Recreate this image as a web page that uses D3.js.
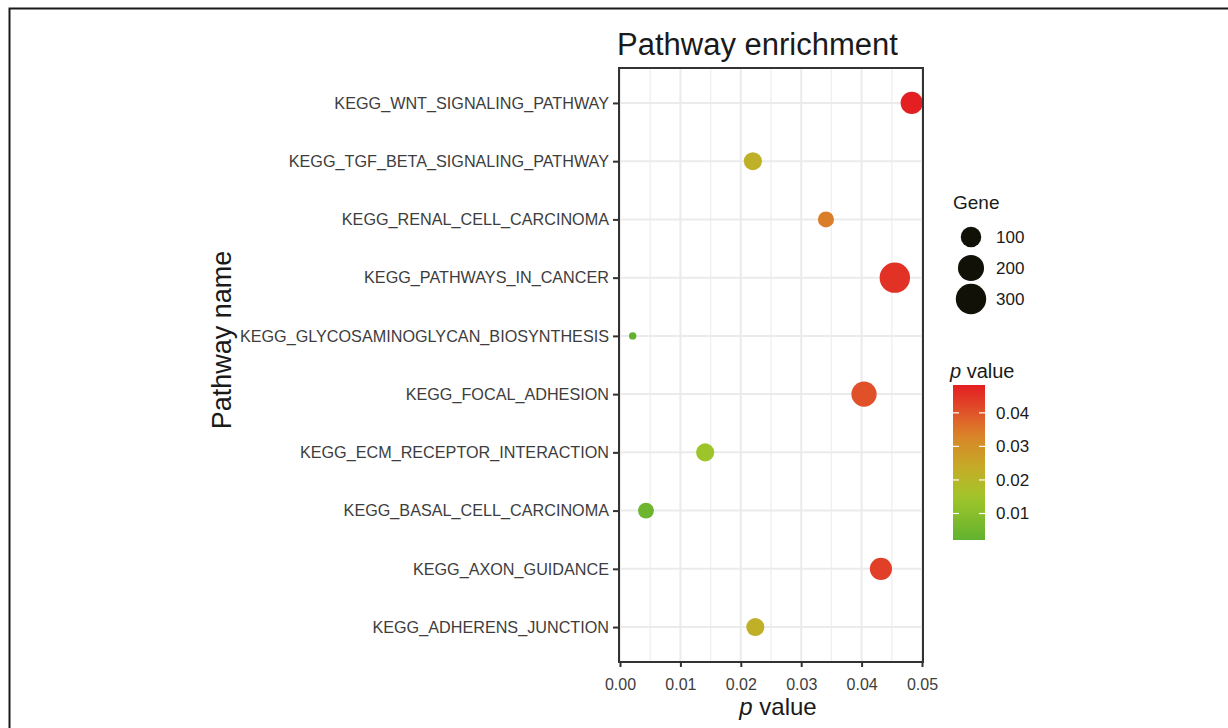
<!DOCTYPE html>
<html>
<head>
<meta charset="utf-8">
<script src="https://cdn.jsdelivr.net/npm/d3@7"></script>
<style>
  html, body { margin: 0; padding: 0; background: #fff; }
  svg { display: block; font-family: "Liberation Sans", Arial, sans-serif; }
</style>
</head>
<body>
<svg id="chart" width="1228" height="728"></svg>
<script>
// ---- data ----
const pathways = [
  "KEGG_WNT_SIGNALING_PATHWAY",
  "KEGG_TGF_BETA_SIGNALING_PATHWAY",
  "KEGG_RENAL_CELL_CARCINOMA",
  "KEGG_PATHWAYS_IN_CANCER",
  "KEGG_GLYCOSAMINOGLYCAN_BIOSYNTHESIS",
  "KEGG_FOCAL_ADHESION",
  "KEGG_ECM_RECEPTOR_INTERACTION",
  "KEGG_BASAL_CELL_CARCINOMA",
  "KEGG_AXON_GUIDANCE",
  "KEGG_ADHERENS_JUNCTION"
];
const pValues = [0.0483, 0.0220, 0.0341, 0.0455, 0.0021, 0.0404, 0.0141, 0.0043, 0.0432, 0.0224];
const geneCounts = [126, 68, 46, 300, 4, 182, 68, 44, 126, 68];
const xTicks = [0.00, 0.01, 0.02, 0.03, 0.04, 0.05];
const sizeLegendValues = [100, 200, 300];
const colorLegendTicks = [0.01, 0.02, 0.03, 0.04];

// ---- layout ----
const svg = d3.select("#chart");
const panel = { left: 619, right: 923, top: 68, bottom: 662 };
const FONT = "Liberation Sans, Arial, sans-serif";

// outer frame
svg.append("path")
  .attr("d", "M9.5,740 L9.5,8.5 L1240,8.5")
  .attr("fill", "none").attr("stroke", "#1a1a1a").attr("stroke-width", 2);

const x = d3.scaleLinear().domain([0, 0.05]).range([panel.left + 1, panel.right - 1]);
const y = d3.scalePoint().domain(pathways).range([panel.top, panel.bottom]).padding(0.6);

const gMin = d3.min(geneCounts), gMax = d3.max(geneCounts);
const rMin = 3.7, rMax = 15.2;
const rSqrt = d3.scaleSqrt().domain([0, gMax - gMin]).range([0, rMax - rMin]);
const r = g => rMin + rSqrt(Math.max(0, g - gMin));

const pMin = d3.min(pValues), pMax = d3.max(pValues);
const colorStops = ["#62b22f", "#a2c52a", "#c4ad27", "#da8229", "#e0512a", "#e31f22"];
const stopPos = [0, 0.28, 0.46, 0.68, 0.83, 1];
const color = d3.scaleLinear()
  .domain(stopPos.map(t => pMin + t * (pMax - pMin)))
  .range(colorStops)
  .interpolate(d3.interpolateRgb)
  .clamp(true);

// grid
const grid = svg.append("g");
const minorTicks = d3.range(0.005, 0.05, 0.01);
grid.selectAll("line.minor").data(minorTicks).join("line")
  .attr("x1", d => x(d)).attr("x2", d => x(d))
  .attr("y1", panel.top).attr("y2", panel.bottom)
  .attr("stroke", "#efefef").attr("stroke-width", 1.3);
grid.selectAll("line.majx").data(xTicks).join("line")
  .attr("x1", d => x(d)).attr("x2", d => x(d))
  .attr("y1", panel.top).attr("y2", panel.bottom)
  .attr("stroke", "#ebebeb").attr("stroke-width", 2);
grid.selectAll("line.majy").data(pathways).join("line")
  .attr("x1", panel.left).attr("x2", panel.right)
  .attr("y1", d => y(d)).attr("y2", d => y(d))
  .attr("stroke", "#ebebeb").attr("stroke-width", 2);

// points
svg.append("g").selectAll("circle").data(pathways).join("circle")
  .attr("cx", (d, i) => x(pValues[i]))
  .attr("cy", d => y(d))
  .attr("r", (d, i) => r(geneCounts[i]))
  .attr("fill", (d, i) => color(pValues[i]));

// panel border
svg.append("rect")
  .attr("x", panel.left).attr("y", panel.top)
  .attr("width", panel.right - panel.left).attr("height", panel.bottom - panel.top)
  .attr("fill", "none").attr("stroke", "#333").attr("stroke-width", 2);

// axes
const xAxis = d3.axisBottom(x).tickValues(xTicks).tickFormat(d3.format(".2f")).tickSize(5).tickPadding(12);
const gx = svg.append("g").attr("transform", `translate(0,${panel.bottom})`).call(xAxis);
gx.select(".domain").remove();
gx.selectAll(".tick line").attr("stroke", "#333").attr("stroke-width", 2);
gx.selectAll(".tick text").attr("fill", "#3d3d3d").attr("font-size", 16).attr("font-family", FONT);

const yAxis = d3.axisLeft(y).tickSize(6).tickPadding(4);
const gy = svg.append("g").attr("transform", `translate(${panel.left},0)`).call(yAxis);
gy.select(".domain").remove();
gy.selectAll(".tick line").attr("stroke", "#333").attr("stroke-width", 2);
gy.selectAll(".tick text").attr("fill", "#3d3d3d").attr("font-size", 16.2).attr("font-family", FONT);

// titles
svg.append("text").attr("x", 617).attr("y", 55)
  .attr("font-size", 31).attr("fill", "#1a1a1a").text("Pathway enrichment");

svg.append("text")
  .attr("transform", `translate(231,340) rotate(-90)`)
  .attr("text-anchor", "middle").attr("font-size", 27).attr("fill", "#1a1a1a")
  .text("Pathway name");

const xl = svg.append("text").attr("x", 778).attr("y", 715)
  .attr("text-anchor", "middle").attr("font-size", 24).attr("fill", "#1a1a1a");
xl.append("tspan").attr("font-style", "italic").text("p");
xl.append("tspan").text(" value");

// size legend
const lg = svg.append("g");
lg.append("text").attr("x", 953).attr("y", 209).attr("font-size", 19).attr("fill", "#1a1a1a").text("Gene");
const legY = d3.scalePoint().domain(sizeLegendValues).range([237, 299]);
lg.selectAll("circle").data(sizeLegendValues).join("circle")
  .attr("cx", 971).attr("cy", d => legY(d)).attr("r", d => r(d))
  .attr("fill", "#111108");
lg.selectAll("text.lab").data(sizeLegendValues).join("text")
  .attr("class", "lab")
  .attr("x", 996).attr("y", d => legY(d) + 6)
  .attr("font-size", 17).attr("fill", "#1a1a1a").text(d => d);

// colour legend
const cg = svg.append("g");
const ct = cg.append("text").attr("x", 950).attr("y", 378).attr("font-size", 20).attr("fill", "#1a1a1a");
ct.append("tspan").attr("font-style", "italic").text("p");
ct.append("tspan").text(" value");

const bar = { x: 953, w: 32, top: 385, bottom: 540 };
const cy = d3.scaleLinear().domain([pMin, pMax]).range([bar.bottom, bar.top]);
const defs = svg.append("defs");
const grad = defs.append("linearGradient").attr("id", "pgrad")
  .attr("x1", 0).attr("y1", 1).attr("x2", 0).attr("y2", 0);
grad.selectAll("stop").data(d3.range(0, 1.0001, 0.05)).join("stop")
  .attr("offset", d => d)
  .attr("stop-color", d => color(pMin + d * (pMax - pMin)));
cg.append("rect").attr("x", bar.x).attr("y", bar.top).attr("width", bar.w)
  .attr("height", bar.bottom - bar.top).attr("fill", "url(#pgrad)");
cg.selectAll("line.l").data(colorLegendTicks).join("line")
  .attr("x1", bar.x).attr("x2", bar.x + 6)
  .attr("y1", d => cy(d)).attr("y2", d => cy(d))
  .attr("stroke", "#fff").attr("stroke-width", 1.2);
cg.selectAll("line.r").data(colorLegendTicks).join("line")
  .attr("x1", bar.x + bar.w - 6).attr("x2", bar.x + bar.w)
  .attr("y1", d => cy(d)).attr("y2", d => cy(d))
  .attr("stroke", "#fff").attr("stroke-width", 1.2);
cg.selectAll("text.t").data(colorLegendTicks).join("text")
  .attr("x", 996).attr("y", d => cy(d) + 6)
  .attr("font-size", 17).attr("fill", "#1a1a1a").text(d => d3.format(".2f")(d));
</script>
</body>
</html>
